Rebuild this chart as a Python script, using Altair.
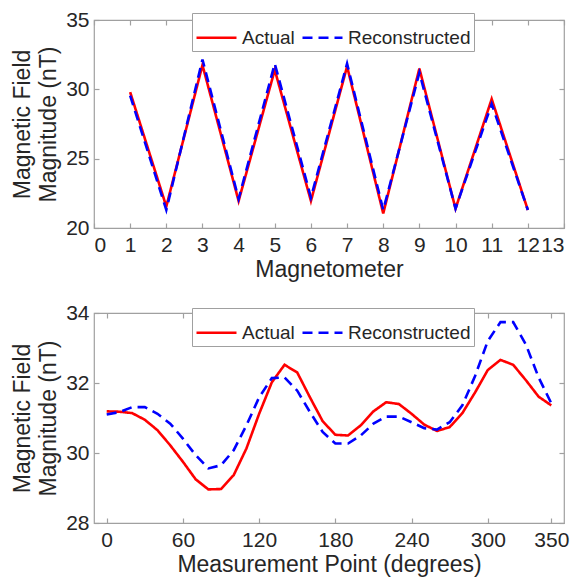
import altair as alt
import pandas as pd

# ---- data ----
magnetometer = [1, 2, 3, 4, 5, 6, 7, 8, 9, 10, 11, 12]
top_actual = [29.8, 21.55, 31.75, 21.95, 31.4, 21.95, 31.65, 21.05, 31.5, 21.4, 29.3, 21.3]
top_recon = [29.55, 21.3, 32.15, 22.1, 31.85, 22.2, 31.85, 21.3, 31.2, 21.4, 28.95, 21.3]

degrees = [0, 10, 20, 30, 40, 50, 60, 70, 80, 90, 100, 110, 120, 130, 140, 150, 160, 170,
           180, 190, 200, 210, 220, 230, 240, 250, 260, 270, 280, 290, 300, 310, 320, 330, 340, 350]
bot_actual = [31.19, 31.18, 31.14, 30.95, 30.65, 30.22, 29.75, 29.25, 28.96, 28.97, 29.37, 30.13,
              31.12, 32.02, 32.52, 32.30, 31.59, 30.91, 30.52, 30.50, 30.79, 31.19, 31.45, 31.40,
              31.12, 30.81, 30.63, 30.74, 31.14, 31.73, 32.37, 32.66, 32.52, 32.08, 31.61, 31.36]
bot_recon = [31.10, 31.17, 31.31, 31.31, 31.12, 30.84, 30.41, 29.94, 29.56, 29.65, 30.08, 30.79,
             31.59, 32.14, 32.16, 31.78, 31.17, 30.60, 30.27, 30.27, 30.50, 30.84, 31.04, 31.04,
             30.88, 30.71, 30.67, 30.88, 31.36, 32.20, 33.20, 33.74, 33.74, 33.10, 32.16, 31.42]

series_names = ["Actual", "Reconstructed"]
top_xticks = [0, 1, 2, 3, 4, 5, 6, 7, 8, 9, 10, 11, 12, 13]
top_yticks = [20, 25, 30, 35]
bot_xticks = [0, 60, 120, 180, 240, 300, 350]
bot_yticks = [28, 30, 32, 34]

df_top = pd.DataFrame({
    "x": magnetometer * 2,
    "value": top_actual + top_recon,
    "series": [series_names[0]] * len(magnetometer) + [series_names[1]] * len(magnetometer),
})
df_bot = pd.DataFrame({
    "x": degrees * 2,
    "value": bot_actual + bot_recon,
    "series": [series_names[0]] * len(degrees) + [series_names[1]] * len(degrees),
})

FONT = "Liberation Sans"
TXT = "#262626"
FRAME = "#a0a0a0"
YTITLE = ["Magnetic Field", "Magnitude (nT)"]


def legend(ly):
    return alt.Legend(
        title=None, orient="none", legendX=98, legendY=ly, direction="horizontal",
        symbolType="stroke", symbolSize=1600, symbolStrokeWidth=2.5,
        labelFontSize=19, labelFont=FONT, labelColor=TXT, labelOffset=4,
        strokeColor=FRAME, fillColor="white", padding=3, columnPadding=2,
        cornerRadius=0,
    )


def panel(df, xdom, xticks, ydom, yticks, xtitle, h, ly):
    color = alt.Color("series:N", scale=alt.Scale(domain=series_names, range=["#ff0000", "#0000ff"]),
                      legend=legend(ly))
    dash = alt.StrokeDash("series:N", scale=alt.Scale(domain=series_names, range=[[1, 0], [10, 6]]),
                          legend=legend(ly))
    lines = alt.Chart(df).mark_line(strokeWidth=2.6).encode(
        x=alt.X("x:Q", scale=alt.Scale(domain=xdom, nice=False, zero=False),
                axis=alt.Axis(values=xticks, title=xtitle, orient="bottom", offset=-5,
                              tickSize=5, labelPadding=6, titlePadding=3, format="d")),
        y=alt.Y("value:Q", scale=alt.Scale(domain=ydom, nice=False, zero=False),
                axis=alt.Axis(values=yticks, title=YTITLE, orient="left", offset=-5,
                              tickSize=5, labelPadding=5, titlePadding=5, titleLineHeight=26,
                              format="d")),
        color=color,
        strokeDash=dash,
        order=alt.Order("x:Q"),
    )
    mirror = alt.Chart(df).mark_point(opacity=0).encode(
        x=alt.X("x:Q", axis=alt.Axis(values=xticks, orient="top", labels=False, title=None,
                                     offset=-5, tickSize=5)),
        y=alt.Y("value:Q", axis=alt.Axis(values=yticks, orient="right", labels=False, title=None,
                                         offset=-5, tickSize=5)),
    )
    return alt.layer(lines, mirror).properties(width=470, height=h)


top = panel(df_top, [0, 13], top_xticks, [20, 35], top_yticks, "Magnetometer", 208, -7)
bottom = panel(df_bot, [-10, 360], bot_xticks, [28, 34], bot_yticks, "Measurement Point (degrees)", 210, -5)

chart = (
    alt.vconcat(top, bottom, spacing=19)
    .resolve_scale(color="independent", strokeDash="independent")
    .properties(padding={"left": 3, "top": 0, "right": 0, "bottom": 0}, background="white")
    .configure_view(stroke=FRAME, strokeWidth=1.2)
    .configure_axis(
        labelFont=FONT, titleFont=FONT, labelFontSize=21, titleFontSize=23,
        labelColor=TXT, titleColor=TXT, titleFontWeight="normal",
        grid=False, domain=False, tickColor=FRAME, tickWidth=1.2,
    )
)

chart.save("out.html", embed_options={"renderer": "svg", "actions": False})
